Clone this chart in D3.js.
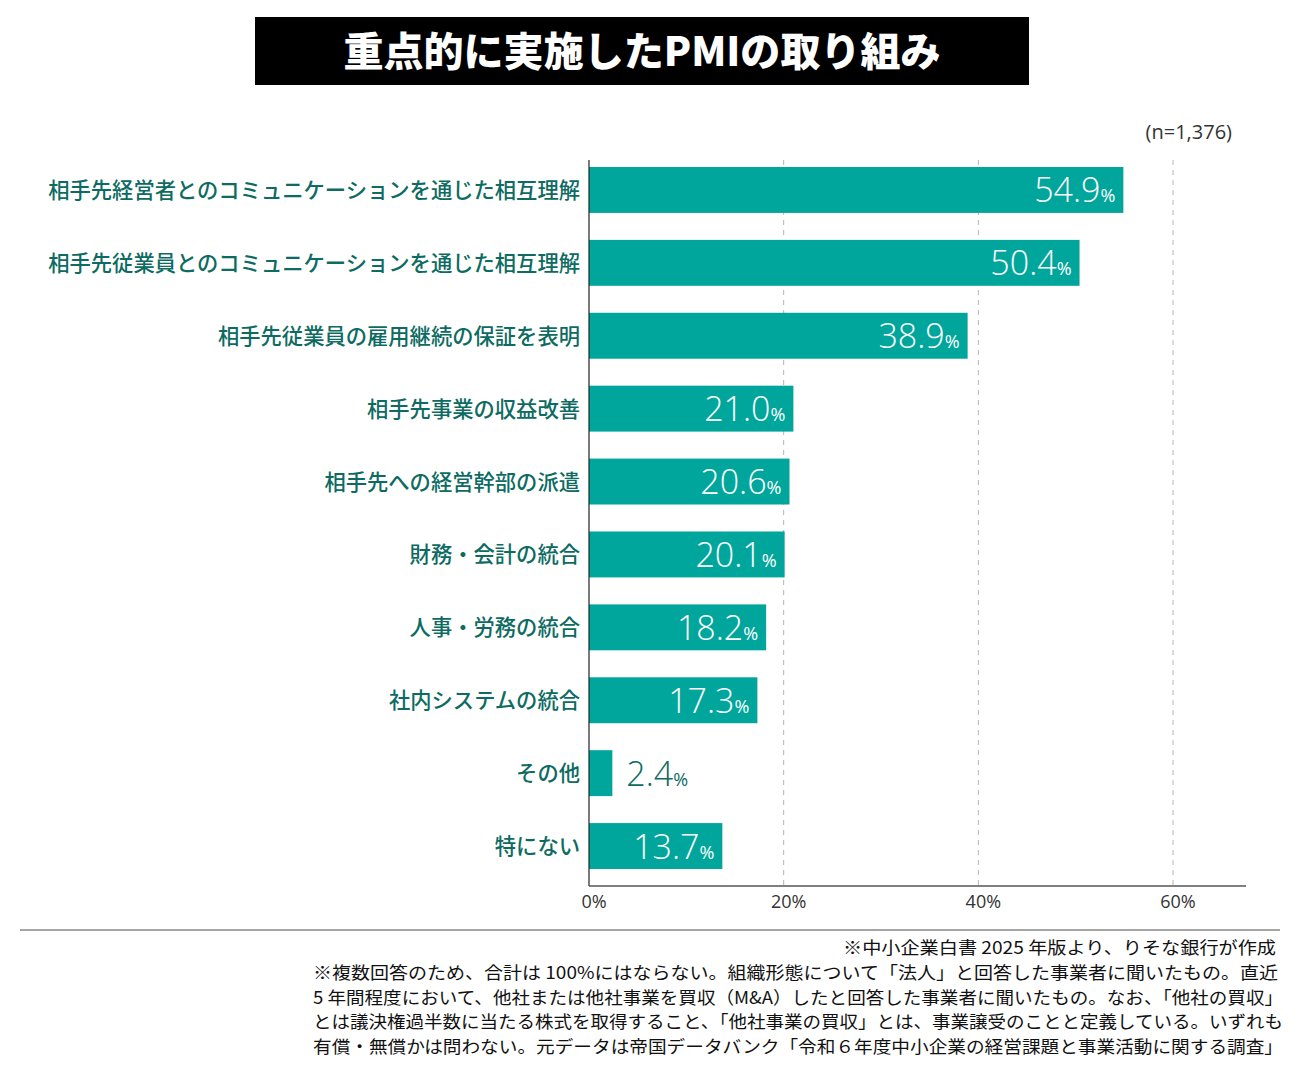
<!DOCTYPE html>
<html>
<head>
<meta charset="utf-8">
<script src="https://cdn.jsdelivr.net/npm/d3@7"></script>
<style>
  body { margin: 0; background: #fff; }
  svg { display: block; }
</style>
</head>
<body>
<svg id="chart" width="1300" height="1081"></svg>
<script>
const categories = [
  '相手先経営者とのコミュニケーションを通じた相互理解',
  '相手先従業員とのコミュニケーションを通じた相互理解',
  '相手先従業員の雇用継続の保証を表明',
  '相手先事業の収益改善',
  '相手先への経営幹部の派遣',
  '財務・会計の統合',
  '人事・労務の統合',
  '社内システムの統合',
  'その他',
  '特にない'
]
const values = [54.9, 50.4, 38.9, 21.0, 20.6, 20.1, 18.2, 17.3, 2.4, 13.7]
const ticks = [0, 20, 40, 60]
const title = '重点的に実施したPMIの取り組み'
const sampleNote = '(n=1,376)'
const sourceNote = '※中小企業白書 2025 年版より、りそな銀行が作成'
const notes = [
  '※複数回答のため、合計は 100%にはならない。組織形態について「法人」と回答した事業者に聞いたもの。直近',
  '5 年間程度において、他社または他社事業を買収（M&A）したと回答した事業者に聞いたもの。なお、「他社の買収」',
  'とは議決権過半数に当たる株式を取得すること、「他社事業の買収」とは、事業譲受のことと定義している。いずれも',
  '有償・無償かは問わない。元データは帝国データバンク「令和６年度中小企業の経営課題と事業活動に関する調査」'
]

const teal = '#00a69b'
const labelColor = '#0d6b62'
const jp = '"Noto Sans CJK JP", "Noto Sans", sans-serif'

let svg = d3.select('#chart')

// title box
svg.append('rect')
  .attr('x', 255).attr('y', 17).attr('width', 774).attr('height', 68)
  .attr('fill', '#000')
svg.append('text')
  .attr('x', 642).attr('y', 66)
  .attr('text-anchor', 'middle')
  .attr('fill', '#fff')
  .attr('textLength', 597).attr('lengthAdjust', 'spacingAndGlyphs')
  .style('font-family', jp).style('font-weight', 900).style('font-size', '40px')
  .text(title)

svg.append('text')
  .attr('x', 1232).attr('y', 139)
  .attr('text-anchor', 'end')
  .attr('fill', '#333')
  .style('font-family', '"Open Sans", sans-serif').style('font-size', '20px')
  .text(sampleNote)

let x = d3.scaleLinear().domain([0, 60]).range([589, 1173])
let y = d3.scaleBand().domain(categories).range([153.5, 882.5])
  .paddingInner(0.37).paddingOuter(0.185)

let plotTop = 160, plotBottom = 886

// dashed gridlines
svg.append('g')
  .selectAll('line.grid')
  .data(ticks.slice(1))
  .enter().append('line')
    .attr('class', 'grid')
    .attr('x1', d => x(d)).attr('x2', d => x(d))
    .attr('y1', plotTop).attr('y2', plotBottom)
    .attr('stroke', '#b5b5b5')
    .attr('stroke-width', 1)
    .attr('stroke-dasharray', '5,5')

// bars
svg.append('g')
  .selectAll('rect.bar')
  .data(values)
  .enter().append('rect')
    .attr('class', 'bar')
    .attr('x', x(0))
    .attr('y', (d, i) => y(categories[i]))
    .attr('width', d => x(d) - x(0))
    .attr('height', y.bandwidth())
    .attr('fill', teal)

// value labels, outside the bar when it is too short
let vl = svg.append('g')
  .selectAll('text.val')
  .data(values)
  .enter().append('text')
    .attr('class', 'val')
    .attr('x', d => d < 5 ? x(d) + 14 : x(d) - 8)
    .attr('y', (d, i) => y(categories[i]) + y.bandwidth() / 2 + 12.5)
    .attr('text-anchor', d => d < 5 ? 'start' : 'end')
    .attr('fill', d => d < 5 ? labelColor : '#fff')
    .style('font-family', '"Open Sans", sans-serif')
    .style('font-weight', 300)
vl.append('tspan')
  .style('font-size', '34px')
  .text(d => d.toFixed(1))
vl.append('tspan')
  .style('font-size', '18px')
  .style('font-weight', 400)
  .text('%')

// category labels
svg.append('g')
  .selectAll('text.cat')
  .data(categories)
  .enter().append('text')
    .attr('class', 'cat')
    .attr('x', 580)
    .attr('y', d => y(d) + y.bandwidth() / 2 + 8)
    .attr('text-anchor', 'end')
    .attr('fill', labelColor)
    .style('font-family', jp).style('font-weight', 500).style('font-size', '21.3px')
    .text(d => d)

// axes lines
svg.append('line')
  .attr('x1', x(0)).attr('x2', x(0))
  .attr('y1', plotTop).attr('y2', plotBottom)
  .attr('stroke', '#222').attr('stroke-width', 1.2)
svg.append('line')
  .attr('x1', x(0)).attr('x2', 1246)
  .attr('y1', plotBottom).attr('y2', plotBottom)
  .attr('stroke', '#555').attr('stroke-width', 1.5)

// tick labels
svg.append('g')
  .selectAll('text.tick')
  .data(ticks)
  .enter().append('text')
    .attr('class', 'tick')
    .attr('x', d => x(d) + 5)
    .attr('y', 908)
    .attr('text-anchor', 'middle')
    .attr('fill', '#333')
    .style('font-family', '"Open Sans", sans-serif').style('font-size', '18px')
    .text(d => d + '%')

// separator
svg.append('line')
  .attr('x1', 20).attr('x2', 1280)
  .attr('y1', 930).attr('y2', 930)
  .attr('stroke', '#888').attr('stroke-width', 1.5)

// footnotes
svg.append('text')
  .attr('x', 1276).attr('y', 954)
  .attr('text-anchor', 'end')
  .attr('fill', '#111')
  .attr('textLength', 433).attr('lengthAdjust', 'spacingAndGlyphs')
  .style('font-family', jp).style('font-size', '17.5px')
  .text(sourceNote)

svg.append('g')
  .selectAll('text.note')
  .data(notes)
  .enter().append('text')
    .attr('class', 'note')
    .attr('x', 313)
    .attr('y', (d, i) => 979 + i * 24.5)
    .attr('fill', '#111')
    .attr('textLength', (d, i) => i === 0 ? 965 : 970)
    .attr('lengthAdjust', 'spacingAndGlyphs')
    .style('font-family', jp).style('font-size', '17.5px')
    .text(d => d)
</script>
</body>
</html>
